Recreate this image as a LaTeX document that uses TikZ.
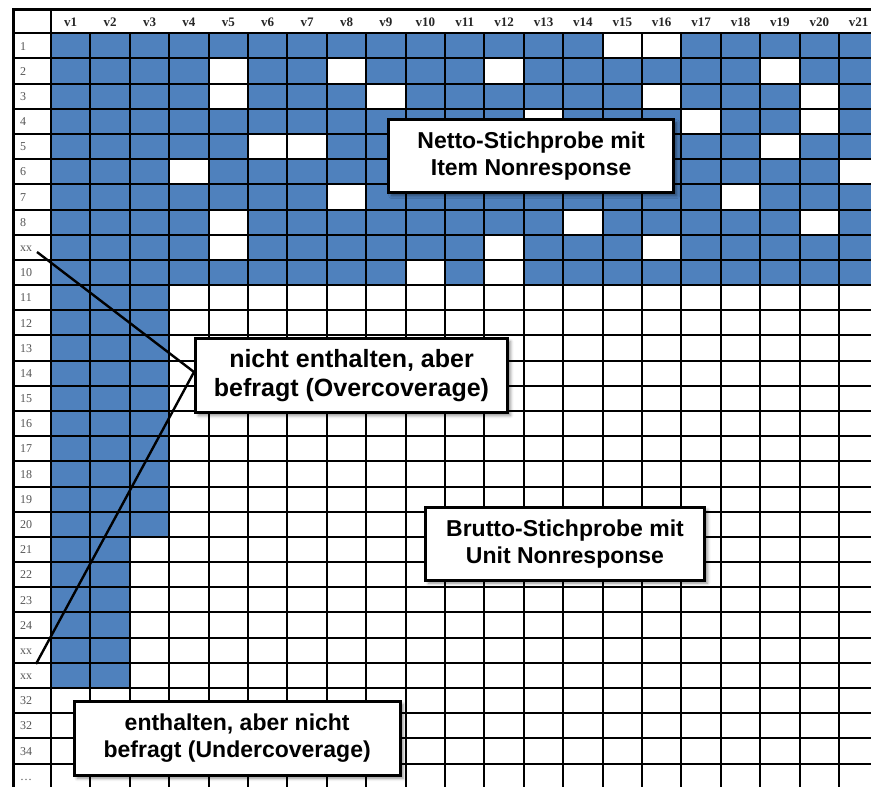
\documentclass[tikz,border=0pt]{standalone}
\usepackage{fontspec}
\setmainfont{Liberation Serif}
\setsansfont{Liberation Sans}
\usetikzlibrary{shadows.blur}
\definecolor{cellblue}{RGB}{79,129,189}
\definecolor{labelgrey}{RGB}{85,85,85}

\tikzset{
  gridline/.style={line width=2pt, black},
  leader/.style={line width=2.4pt, black},
  infobox/.style={draw, line width=3pt, fill=white, align=center, inner sep=0pt,
    font=\sffamily\bfseries\fontsize{23}{27}\selectfont,
    blur shadow={shadow xshift=3pt, shadow yshift=-3pt, shadow blur radius=3pt, shadow opacity=45}},
  rowlab/.style={anchor=base west, inner sep=0pt, text=labelgrey, font=\fontsize{12}{14}\selectfont},
  collab/.style={anchor=base, inner sep=0pt, text=black!85, font=\bfseries\fontsize{13}{15}\selectfont},
}

\begin{document}
\begin{tikzpicture}[x=1pt, y=-1pt]
  \useasboundingbox (0,0) rectangle (871,787);
  \clip (0,0) rectangle (871,787);

  % filled cells, the missing items are punched out afterwards
  \fill[cellblue] (51,33.3) rectangle (878.4,285.1);
  \fill[cellblue] (51,285.1) rectangle (169.2,536.9);
  \fill[cellblue] (51,536.9) rectangle (129.8,688);
  \foreach \c/\r in {15/1,16/1, 5/2,8/2,12/2,19/2, 5/3,9/3,16/3,20/3,
                     13/4,17/4,20/4, 6/5,7/5,19/5, 4/6,21/6, 8/7,18/7,
                     5/8,14/8,20/8, 5/9,12/9,16/9, 10/10,12/10}
    \fill[white] ({51+(\c-1)*39.4},{33.3+(\r-1)*25.18}) rectangle ++(39.4,25.18);

  % table lines
  \foreach \k in {0,...,29}
    \draw[gridline] (13,{33.3+\k*25.18}) -- (878,{33.3+\k*25.18});
  \foreach \k in {1,...,20}
    \draw[gridline] ({51+\k*39.4},33.3) -- ({51+\k*39.4},790);
  \draw[gridline] (51,9) -- (51,790);
  \draw[line width=3pt] (13,790) -- (13,9) -- (878,9);

  % variables and cases
  \foreach \k in {1,...,21}
    \node[collab] (v\k) at ({51+(\k-0.5)*39.4},27) {v\k};
  \foreach \t [count=\r] in {1,2,3,4,5,6,7,8,xx,10,11,12,13,14,15,16,17,18,19,20,
                             21,22,23,24,xx,xx,32,32,34,\ldots}
    \node[rowlab] (row\r) at (20,{33.3+(\r-0.5)*25.18+4.2}) {\t};

  \node[infobox, minimum width=285, minimum height=73] (netto) at (531.2,156.2)
    {Netto-Stichprobe mit\\Item Nonresponse};
  \node[infobox, minimum width=279, minimum height=73] (brutto) at (565,543.7)
    {Brutto-Stichprobe mit\\Unit Nonresponse};
  \node[infobox, minimum width=326, minimum height=74] (under) at (237.2,738.3)
    {enthalten, aber nicht\\befragt (Undercoverage)};
  \node[infobox, minimum width=312, minimum height=74,
    font=\sffamily\bfseries\fontsize{25}{29}\selectfont] (over) at (351.5,375.5)
    {nicht enthalten, aber\\befragt (Overcoverage)};

  \coordinate (xxtop) at (37,252);
  \coordinate (xxbot) at (36,664);
  \draw[leader] (xxtop) -- ([yshift=3.5pt]over.west);
  \draw[leader] (xxbot) -- ([yshift=3.5pt]over.west);
\end{tikzpicture}
\end{document}
